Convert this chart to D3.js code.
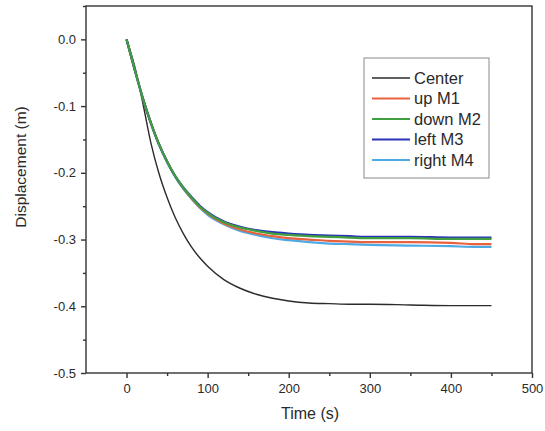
<!DOCTYPE html>
<html>
<head>
<meta charset="utf-8">
<script src="https://cdn.jsdelivr.net/npm/d3@7"></script>
<style>
  body { margin: 0; background: #fff; }
  text { font-family: "Liberation Sans", Arial, sans-serif; fill: #2a2a2a; }
</style>
</head>
<body>
<svg id="chart"></svg>
<script>
'use strict';

// time samples (s)
var times = [0, 10, 20, 30, 40, 50, 60, 70, 80, 90, 100, 120, 140, 160, 180, 200, 225, 250, 275, 300, 350, 400, 430, 450];

// displacement (m)
var center = [0, -0.040, -0.095, -0.155, -0.201, -0.237, -0.267, -0.291, -0.311, -0.327, -0.340, -0.360, -0.373, -0.382, -0.388, -0.392, -0.395, -0.396, -0.397, -0.397, -0.398, -0.399, -0.399, -0.399];
var upM1 = [0, -0.045, -0.088, -0.125, -0.157, -0.183, -0.205, -0.223, -0.238, -0.251, -0.261, -0.276, -0.285, -0.291, -0.295, -0.298, -0.300, -0.302, -0.303, -0.304, -0.304, -0.305, -0.307, -0.307];
var downM2 = [0, -0.045, -0.088, -0.125, -0.157, -0.183, -0.205, -0.222, -0.237, -0.250, -0.260, -0.274, -0.282, -0.287, -0.291, -0.293, -0.295, -0.296, -0.297, -0.298, -0.298, -0.299, -0.299, -0.299];
var leftM3 = [0, -0.045, -0.088, -0.125, -0.157, -0.183, -0.205, -0.222, -0.236, -0.249, -0.259, -0.273, -0.281, -0.286, -0.289, -0.291, -0.293, -0.294, -0.295, -0.296, -0.296, -0.297, -0.297, -0.297];
var rightM4 = [0, -0.045, -0.088, -0.126, -0.158, -0.184, -0.206, -0.224, -0.239, -0.252, -0.263, -0.277, -0.287, -0.293, -0.298, -0.301, -0.304, -0.306, -0.307, -0.308, -0.309, -0.310, -0.311, -0.311];

var seriesNames = ['Center', 'up M1', 'down M2', 'left M3', 'right M4'];
var seriesColors = ['#2b2b2b', '#e8623e', '#3f9e3f', '#2a32b8', '#4fa9e3'];
var seriesValues = [center, upM1, downM2, leftM3, rightM4];
// green is drawn last, it sits on top at the start
var drawOrder = [0, 4, 1, 3, 2];

var xTicks = [0, 100, 200, 300, 400, 500];
var yTicks = [0.0, -0.1, -0.2, -0.3, -0.4, -0.5];

var W = 545, H = 431;
var margin = {top: 6, right: 13, bottom: 58, left: 86},
    width = W - margin.left - margin.right,
    height = H - margin.top - margin.bottom;

var svg = d3.select('#chart').attr('width', W).attr('height', H);

var x = d3.scaleLinear().domain([-50, 500]).range([0, width]);
var y = d3.scaleLinear().domain([-0.5, 0.05]).range([height, 0]);

var chart = svg.append('g')
    .attr('transform', 'translate(' + margin.left + ',' + margin.top + ')');

// frame
chart.append('rect')
    .attr('width', width).attr('height', height)
    .attr('fill', 'none').attr('stroke', '#333').attr('stroke-width', 1.4);

// X axis
chart.append('g')
    .attr('transform', 'translate(0,' + height + ')')
    .call(d3.axisBottom(x).tickValues(xTicks).tickFormat(d3.format('d')).tickSize(5).tickPadding(6));
chart.append('g')
    .attr('transform', 'translate(0,' + height + ')')
    .call(d3.axisBottom(x).tickValues([50, 150, 250, 350, 450]).tickSize(3).tickFormat(''));

// Y axis
var yAxis = chart.append('g')
    .call(d3.axisLeft(y).tickValues(yTicks).tickFormat(d3.format('.1f')).tickSize(5).tickPadding(5));
chart.append('g')
    .call(d3.axisLeft(y).tickValues([0.05, -0.05, -0.15, -0.25, -0.35, -0.45]).tickSize(3).tickFormat(''));

chart.selectAll('.domain').remove();
chart.selectAll('.tick line').attr('stroke', '#333').attr('stroke-width', 1.4);
chart.selectAll('.tick text').style('font-size', '13px').attr('fill', '#2a2a2a');
yAxis.selectAll('.tick text').text(function(d) { return d3.format('.1f')(d).replace('−', '-'); });

// axis titles
svg.append('text')
    .attr('x', margin.left + width / 2 + 1)
    .attr('y', 419)
    .attr('text-anchor', 'middle')
    .style('font-size', '16px')
    .text('Time (s)');

svg.append('text')
    .attr('transform', 'translate(26,167) rotate(-90)')
    .attr('text-anchor', 'middle')
    .style('font-size', '15.5px')
    .text('Displacement (m)');

// curves
var line = d3.line()
    .x(function(d, i) { return x(times[i]); })
    .y(function(d) { return y(d); })
    .curve(d3.curveMonotoneX);

chart.selectAll('.curve')
    .data(drawOrder)
    .enter().append('path')
    .attr('class', 'curve')
    .attr('d', function(k) { return line(seriesValues[k]); })
    .attr('fill', 'none')
    .attr('stroke', function(k) { return seriesColors[k]; })
    .attr('stroke-width', function(k) { return k === 0 ? 1.4 : 2.2; });

// legend
var legend = svg.append('g').attr('transform', 'translate(364,58)');
legend.append('rect')
    .attr('width', 125).attr('height', 120)
    .attr('fill', '#fff').attr('stroke', '#8a8a8a').attr('stroke-width', 1);

var ly = d3.scalePoint().domain(seriesNames).range([20, 102]);

var items = legend.selectAll('.item')
    .data(seriesNames)
    .enter().append('g')
    .attr('class', 'item')
    .attr('transform', function(d) { return 'translate(0,' + ly(d) + ')'; });

items.append('line')
    .attr('x1', 8).attr('x2', 46)
    .attr('stroke', function(d, i) { return seriesColors[i]; })
    .attr('stroke-width', function(d, i) { return i === 0 ? 1.4 : 2.2; });

items.append('text')
    .attr('x', 50)
    .attr('dy', '0.36em')
    .style('font-size', '16.5px')
    .text(function(d) { return d; });
</script>
</body>
</html>
